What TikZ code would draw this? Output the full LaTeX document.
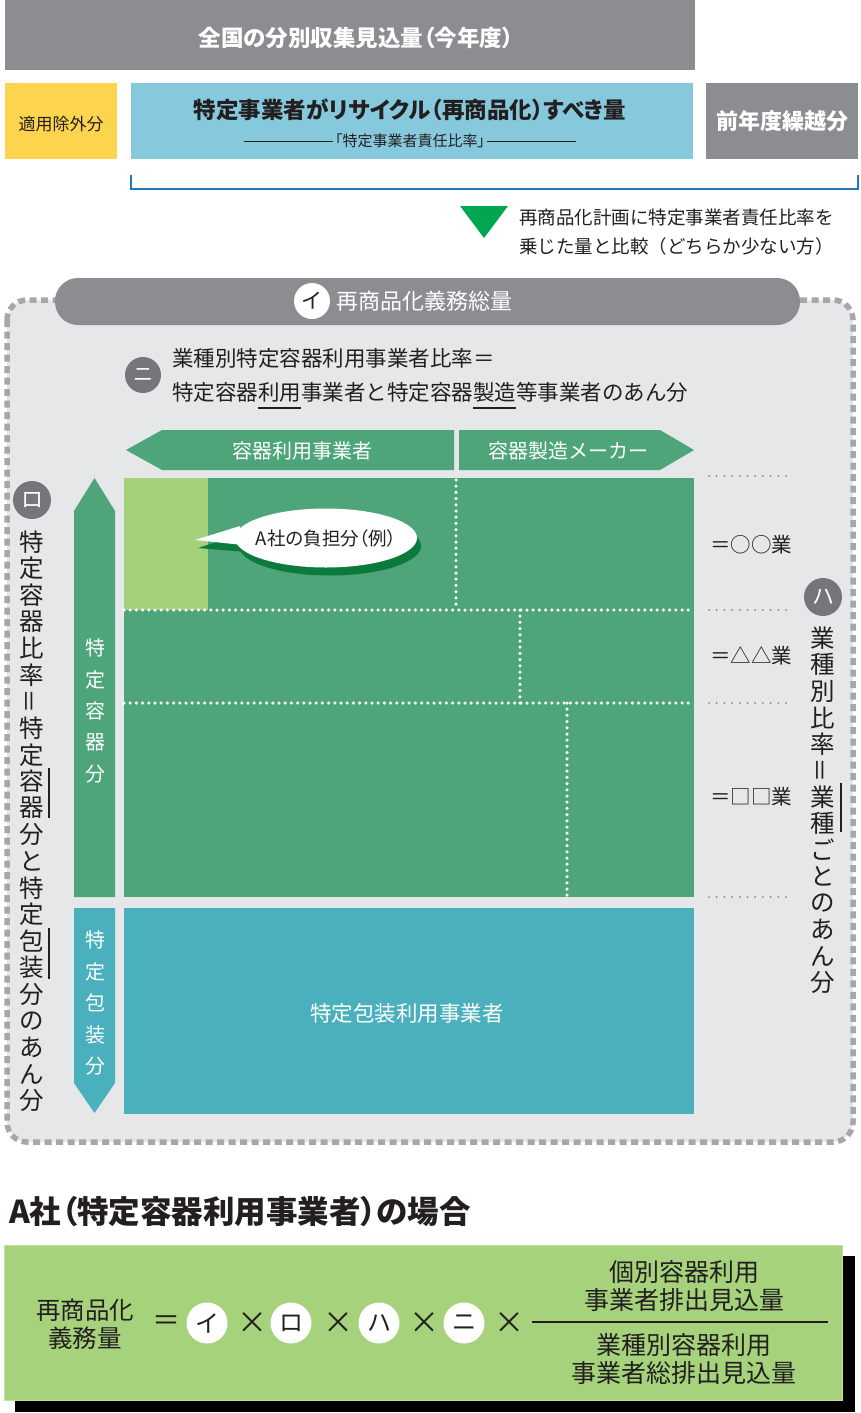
\documentclass[tikz,border=0pt]{standalone}
\usepackage{fontspec}
\usepackage{graphicx}
\setmainfont{Noto Sans CJK JP}
\usetikzlibrary{calc}
\definecolor{dgray}{HTML}{8C8D91}
\definecolor{cgray}{HTML}{75767A}
\definecolor{bluebox}{HTML}{86C8DC}
\definecolor{yell}{HTML}{FDD44D}
\definecolor{bblue}{HTML}{1F78BE}
\definecolor{tgreen}{HTML}{00A650}
\definecolor{bgl}{HTML}{E6E7E9}
\definecolor{dashg}{HTML}{A6A7AA}
\definecolor{mgreen}{HTML}{4EA57A}
\definecolor{lgreen}{HTML}{A4D17A}
\definecolor{tealc}{HTML}{4BB0BD}
\definecolor{shgreen}{HTML}{0B7A3A}
\definecolor{fgreen}{HTML}{A5D27B}
\definecolor{txt}{HTML}{231F20}
\newcommand\setfs[1]{\fontsize{#1}{#1}\selectfont}
\newcommand\palt{\addfontfeature{RawFeature=+palt}}
\newcommand\vtxt[6]{% x, y0, pitch, size, colour, list
  \foreach \ch [count=\i from 0] in {#6}
    \node[inner sep=0pt, text=#5, font=\setfs{#4}] at (#1, #2+#3*\i) {\ch};}
\begin{document}
\begin{tikzpicture}[x=1pt,y=-1pt,
  lbl/.style={inner sep=0pt, text=txt},
  wlbl/.style={inner sep=0pt, text=white},
  wdots/.style={white, line width=3.5pt, dash pattern=on 0pt off 6.2pt, line cap=round},
  gdots/.style={dashg!80!black, line width=2pt, dash pattern=on 0pt off 7.7pt, line cap=round},
  badge/.style={circle, fill=cgray, text=white, minimum size=38pt, inner sep=0pt, font=\setfs{22}},
  wbadge/.style={circle, fill=white, text=txt, minimum size=41pt, inner sep=0pt, font=\setfs{24}},
  bar/.style={txt, line width=1.5pt}
]
\useasboundingbox (0,0) rectangle (860,1413);
\fill[white] (0,0) rectangle (860,1413);

% ---------- top blocks
\fill[dgray] (5,0) rectangle (695,70);
\node[wlbl, font=\setfs{22.5}\bfseries\palt] (t1) at (356,38) {全国の分別収集見込量（今年度）};
\fill[yell] (5,83) rectangle (117,159);
\node[lbl, font=\setfs{17}] (t2) at (61,124) {適用除外分};
\fill[bluebox] (131,83) rectangle (693,159);
\node[lbl, font=\setfs{22.5}\bfseries\palt] (t3) at (410,110) {特定事業者がリサイクル（再商品化）すべき量};
\node[lbl, font=\setfs{15}\palt] (t4) at (410,141) {「特定事業者責任比率」};
\draw[txt, line width=0.7pt] (244,141) -- ([xshift=-2pt]t4.west) ([xshift=2pt]t4.east) -- (576,141);
\fill[dgray] (706,83) rectangle (858,159);
\node[wlbl, font=\setfs{22}\bfseries] (t5) at (782,121) {前年度繰越分};
\draw[bblue, line width=2.5pt] (131,175) -- (131,189) -- (858,189) -- (858,175);
\fill[tgreen] (460,206) -- (508,206) -- (484,238) -- cycle;
\node[lbl, font=\setfs{18.5}, anchor=west] (t6) at (519,218) {再商品化計画に特定事業者責任比率を};
\node[lbl, font=\setfs{18.5}, anchor=west] (t7) at (519,246) {乗じた量と比較（どちらか少ない方）};

% ---------- dashed frame
\draw[dashg, line width=5.5pt, dash pattern=on 7pt off 4.5pt, fill=bgl, rounded corners=20pt] (7,300) rectangle (853,1142);
\fill[dgray, rounded corners=23pt] (55,278) rectangle (800,325);
\node[circle, fill=white, text=txt, minimum size=36pt, inner sep=0pt, font=\setfs{21}] (ci) at (312,301) {イ};
\node[wlbl, font=\setfs{22}, anchor=west] (t8) at (336,301) {再商品化義務総量};

\node[badge, minimum size=36pt, font=\setfs{20}] (cn) at (143,375) {ニ};
\node[lbl, font=\setfs{21.5}, anchor=west] (t9) at (172,358) {業種別特定容器利用事業者比率＝};
\node[lbl, font=\setfs{21.5}, anchor=west] (t10) at (172,392) {特定容器利用事業者と特定容器製造等事業者のあん分};
\draw[bar] ($(t10.west)+(4*21.5,16)$) -- ++(43,0);
\draw[bar] ($(t10.west)+(14*21.5,16)$) -- ++(43,0);

% banners
\fill[mgreen] (126,450) -- (162,430) -- (454,430) -- (454,470) -- (162,470) -- cycle;
\fill[mgreen] (459,430) -- (660,430) -- (694,450) -- (660,470) -- (459,470) -- cycle;
\node[wlbl, font=\setfs{20}] (t11) at (302,451) {容器利用事業者};
\node[wlbl, font=\setfs{20}] (t12) at (568,451) {容器製造メーカー};

% main grid
\fill[mgreen] (124,478) rectangle (694,897);
\fill[lgreen] (124,478) rectangle (208,610);
\draw[wdots] (124,610) -- (694,610);
\draw[wdots] (124,703) -- (694,703);
\draw[wdots] (456,480) -- (456,610);
\draw[wdots] (520,610) -- (520,703);
\draw[wdots] (567,703) -- (567,897);

% right side labels
\draw[gdots] (709,476) -- (793,476);
\draw[gdots] (709,610) -- (793,610);
\draw[gdots] (709,703) -- (793,703);
\draw[gdots] (709,897) -- (793,897);
\node[lbl, font=\setfs{20.5}] (u1) at (751,545) {＝○○業};
\node[lbl, font=\setfs{20.5}] (u2) at (751,656) {＝△△業};
\node[lbl, font=\setfs{20.5}] (u3) at (751,797) {＝□□業};

\node[badge] (ch) at (823,597) {ハ};
\vtxt{823}{638}{26.5}{24.5}{txt}{業,種,別,比,率,{\rotatebox{90}{＝}},業,種,ご,と,の,あ,ん,分}
\draw[bar] (841,783) -- (841,832);

% left side
\node[badge] (cr) at (32,500) {ロ};
\vtxt{32}{542}{26.6}{24.5}{txt}{特,定,容,器,比,率,{\rotatebox{90}{＝}},特,定,容,器,分,と,特,定,包,装,分,の,あ,ん,分}
\draw[bar] (49,768) -- (49,818);
\draw[bar] (49,928) -- (49,979);

\fill[mgreen] (94.5,478) -- (115,511) -- (115,897) -- (74,897) -- (74,511) -- cycle;
\vtxt{95}{648}{31.5}{20}{white}{特,定,容,器,分}
\fill[tealc] (74,908) -- (115,908) -- (115,1083) -- (94.5,1113) -- (74,1083) -- cycle;
\vtxt{95}{940}{31.5}{20}{white}{特,定,包,装,分}

\fill[tealc] (124,908) rectangle (694,1114);
\node[wlbl, font=\setfs{21.5}] (t13) at (407,1013) {特定包装利用事業者};

% speech bubble
\fill[shgreen] (330,546) ellipse [x radius=91, y radius=29.5];
\fill[shgreen] (198,548) -- (242,534) -- (246,552) -- cycle;
\fill[white] (195,540) -- (240,526) -- (243,545) -- cycle;
\fill[white] (326,538) ellipse [x radius=91, y radius=29.5];
\node[lbl, font=\setfs{18.5}\palt] (t14) at (326,538) {A社の負担分（例）};

% ---------- bottom formula
\node[lbl, font=\setfs{31.5}\bfseries\palt, anchor=west] (h) at (9,1212) {A社（特定容器利用事業者）の場合};
\fill[black] (15,1256) rectangle (855,1412);
\fill[fgreen] (4,1245) rectangle (843,1401);
\draw[fgreen!70!white, line width=1pt] (4.5,1245.5) rectangle (842.5,1400.5);
\node[lbl, font=\setfs{24.5}] (f1) at (85,1310) {再商品化};
\node[lbl, font=\setfs{24.5}] (f2) at (85,1338) {義務量};
\node[lbl, font=\setfs{28}] (eq) at (166,1323) {＝};
\node[wbadge] (w1) at (207,1323) {イ};
\node[lbl, font=\setfs{30}] (x1) at (252,1323) {×};
\node[wbadge] (w2) at (291,1323) {ロ};
\node[lbl, font=\setfs{30}] (x2) at (338,1323) {×};
\node[wbadge] (w3) at (379,1323) {ハ};
\node[lbl, font=\setfs{30}] (x3) at (424,1323) {×};
\node[wbadge] (w4) at (464,1323) {ニ};
\node[lbl, font=\setfs{30}] (x4) at (509,1323) {×};
\coordinate (fl) at (532,1322);
\coordinate (fr) at (828,1322);
\draw[txt, line width=1.2pt] (fl) -- (fr);
\node[lbl, font=\setfs{25}] (n1) at (684,1272) {個別容器利用};
\node[lbl, font=\setfs{25}] (n2) at (684,1300) {事業者排出見込量};
\node[lbl, font=\setfs{25}] (d1) at (684,1345) {業種別容器利用};
\node[lbl, font=\setfs{25}] (d2) at (684,1373) {事業者総排出見込量};
\end{tikzpicture}
\end{document}
